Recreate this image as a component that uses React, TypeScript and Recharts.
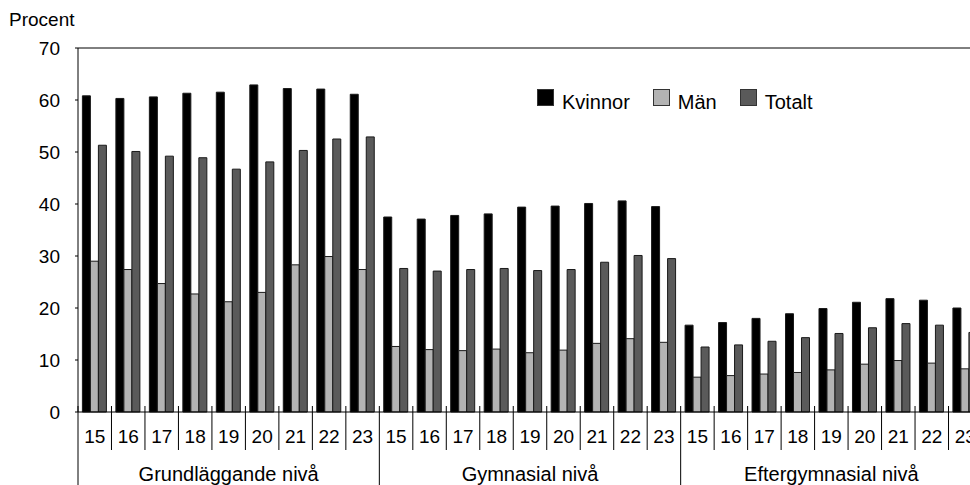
import { Bar, BarChart, Legend, ReferenceLine, XAxis, YAxis } from "recharts";

const levels = ["Grundläggande nivå", "Gymnasial nivå", "Eftergymnasial nivå"];
const years = ["15", "16", "17", "18", "19", "20", "21", "22", "23"];

// Share (percent) per level and year, 2015–2023, in level order.
const kvinnor = [
  60.8, 60.3, 60.6, 61.3, 61.5, 62.9, 62.2, 62.1, 61.1,
  37.5, 37.1, 37.8, 38.1, 39.4, 39.6, 40.1, 40.6, 39.5,
  16.7, 17.2, 18.0, 18.9, 19.9, 21.1, 21.8, 21.5, 20.0,
];
const man = [
  29.0, 27.4, 24.7, 22.7, 21.2, 23.0, 28.3, 29.9, 27.4,
  12.6, 12.0, 11.8, 12.1, 11.4, 11.9, 13.2, 14.1, 13.4,
  6.7, 7.0, 7.3, 7.6, 8.1, 9.2, 9.9, 9.4, 8.3,
];
const totalt = [
  51.3, 50.1, 49.2, 48.9, 46.7, 48.1, 50.3, 52.5, 52.9,
  27.6, 27.1, 27.4, 27.6, 27.2, 27.4, 28.8, 30.1, 29.5,
  12.5, 12.9, 13.6, 14.3, 15.1, 16.2, 17.0, 16.7, 15.3,
];
const yTicks = [0, 10, 20, 30, 40, 50, 60, 70];

const series = [
  { key: "kvinnor", name: "Kvinnor", color: "#000000" },
  { key: "man", name: "Män", color: "#b3b3b3" },
  { key: "totalt", name: "Totalt", color: "#5a5a5a" },
];

const rows = levels.flatMap((level, li) =>
  years.map((year, yi) => {
    const i = li * years.length + yi;
    return { id: `${li}-${year}`, level, year, kvinnor: kvinnor[i], man: man[i], totalt: totalt[i] };
  })
);

const FONT = "'Liberation Sans', Arial, sans-serif";
const CHART_W = 992;
const CHART_H = 485;
const Y_AXIS_W = 78;
const RIGHT = 10;
const X_AXIS_H = 73;
const PLOT_W = CHART_W - Y_AXIS_W - RIGHT;

// Year label plus the separator lines of the two-level category axis.
function CategoryTick(props: any) {
  const { x, y, payload, index } = props;
  const half = payload?.offset || PLOT_W / rows.length / 2;
  const row = rows[index];
  const lastInGroup = (index + 1) % years.length === 0;
  const right = x + half;
  return (
    <g>
      {index === 0 && <line x1={x - half} x2={x - half} y1={y - 6} y2={y + X_AXIS_H} stroke="#000" />}
      <line x1={right} x2={right} y1={y - 6} y2={lastInGroup ? y + X_AXIS_H : y + 38} stroke="#000" />
      <text x={x} y={y + 31} textAnchor="middle" fontSize={19} fontFamily={FONT} fill="#000">
        {row.year}
      </text>
      {index % years.length === 4 && (
        <text x={x} y={y + 69} textAnchor="middle" fontSize={20} fontFamily={FONT} fill="#000">
          {row.level}
        </text>
      )}
    </g>
  );
}

function LegendBox() {
  return (
    <div style={{ display: "flex", fontFamily: FONT, fontSize: 20, lineHeight: "20px", color: "#000" }}>
      {series.map((s) => (
        <div key={s.key} style={{ display: "flex", alignItems: "flex-start", marginRight: 23 }}>
          <div
            style={{
              width: 15,
              height: 15,
              background: s.color,
              border: "1px solid #333",
              marginRight: 8,
            }}
          />
          <span style={{ marginTop: 3 }}>{s.name}</span>
        </div>
      ))}
    </div>
  );
}

export default function App() {
  return (
    <div style={{ position: "absolute", left: 0, top: 0, width: 970, height: 485, overflow: "hidden", background: "#fff" }}>
      <BarChart
        width={CHART_W}
        height={CHART_H}
        data={rows}
        margin={{ top: 48, right: RIGHT, bottom: 0, left: 0 }}
        barCategoryGap={4.4}
        barGap={0}
      >
        <XAxis
          dataKey="id"
          interval={0}
          height={X_AXIS_H}
          tickSize={0}
          tickMargin={0}
          tickLine={false}
          axisLine={{ stroke: "#000" }}
          tick={<CategoryTick />}
        />
        <YAxis
          width={Y_AXIS_W}
          domain={[0, 70]}
          ticks={yTicks}
          interval={0}
          tickSize={3}
          tickMargin={15}
          axisLine={{ stroke: "#000" }}
          tickLine={{ stroke: "#000" }}
          tick={{ fontSize: 19, fontFamily: FONT, fill: "#000" }}
          label={{
            content: () => (
              <text x={9} y={26} fontSize={19} fontFamily={FONT} fill="#000">
                Procent
              </text>
            ),
          }}
        />
        <ReferenceLine y={70} stroke="#000" />
        <Legend
          layout="horizontal"
          verticalAlign="middle"
          align="center"
          content={<LegendBox />}
          wrapperStyle={{ top: 89, left: 537, width: 320 }}
        />
        {series.map((s) => (
          <Bar
            key={s.key}
            dataKey={s.key}
            name={s.name}
            fill={s.color}
            stroke="#1a1a1a"
            strokeWidth={1}
            isAnimationActive={false}
          />
        ))}
      </BarChart>
    </div>
  );
}
